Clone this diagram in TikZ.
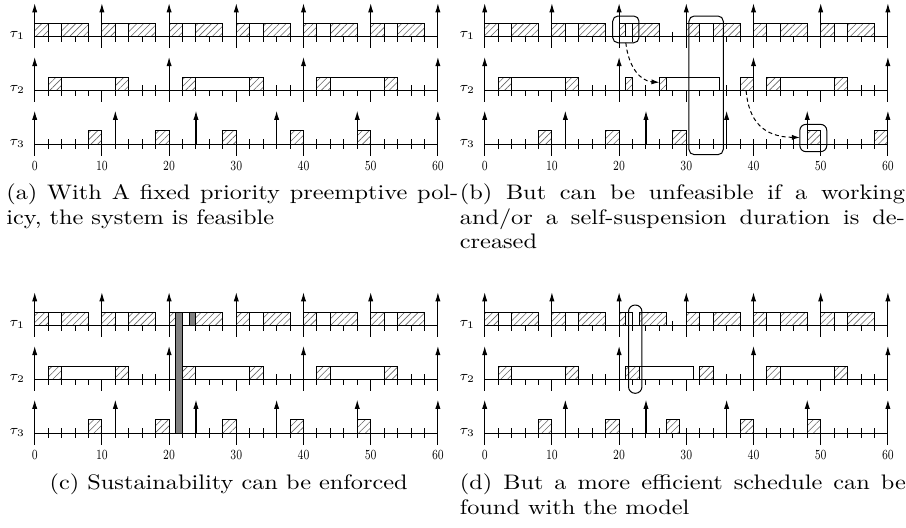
\documentclass[tikz,border=0pt]{standalone}
\usepackage{graphicx}
\usetikzlibrary{patterns.meta,arrows.meta}
\tikzset{
  axisline/.style={line width=0.55pt},
  tickline/.style={line width=0.5pt},
  release/.style={line width=0.55pt,-{Latex[length=4.6pt,width=2.6pt]}},
  workbox/.style={draw,line width=0.5pt,preaction={fill=white},pattern={Lines[angle=45,distance=2.4pt,line width=0.3pt]},pattern color=black!60},
  suspbox/.style={draw,line width=0.5pt,fill=white},
  padbox/.style={draw,line width=0.5pt,fill=black!50},
  ring/.style={draw,line width=0.5pt,rounded corners=2.6pt},
  hint/.style={line width=0.5pt,dash pattern=on 2pt off 1.5pt,-{Latex[length=4pt,width=2.6pt]}},
  tlabel/.style={font=\fontsize{7}{8}\selectfont,anchor=east,inner sep=0pt},
  nlabel/.style={font=\fontsize{7}{8}\selectfont,inner sep=0pt},
  captext/.style={anchor=base west,inner sep=0pt,font=\fontsize{10.5}{12}\selectfont},
}
\newcommand\JobW[3]{\draw[workbox] ({#1},{#3-2}) rectangle ({#2},{#3});}
\newcommand\JobS[3]{\draw[suspbox] ({#1},{#3-2}) rectangle ({#2},{#3});}
\newcommand\JobP[3]{\draw[padbox] ({#1},{#3-2}) rectangle ({#2},{#3});}
\newcommand\TaskOne[1]{\JobW{#1}{#1+2}{0}\JobS{#1+2}{#1+4}{0}\JobW{#1+4}{#1+8}{0}}
\newcommand\TaskTwo[1]{\JobW{#1+2}{#1+4}{8}\JobS{#1+4}{#1+12}{8}\JobW{#1+12}{#1+14}{8}}
\newcommand\Grid{%
  \foreach \r in {0,8,16}{
    \draw[axisline] (0,\r) -- (60,\r);
    \foreach \t in {2,4,...,58}{\draw[tickline] (\t,{\r-0.75}) -- (\t,{\r+0.75});}
    \foreach \t in {0,10,...,60}{\draw[tickline] (\t,{\r-0.75}) -- (\t,{\r+1.75});}
  }
  \foreach \t in {0,10,...,60}{\node[nlabel] at (\t,19.3) {\scalebox{0.74}[1]{\t}};}
  \node[tlabel] (l1) at (-1.4,-0.2) {$\tau_1$};
  \node[tlabel] (l2) at (-1.4,7.85) {$\tau_2$};
  \node[tlabel] (l3) at (-1.4,15.9) {$\tau_3$};
}
\newcommand\Releases{%
  \foreach \t in {0,10,...,60}{\draw[release] (\t,0) -- (\t,-5);}
  \foreach \t in {0,20,40,60}{\draw[release] (\t,8) -- (\t,3);}
  \foreach \t in {0,12,...,60}{\draw[release] (\t,16) -- (\t,11);}
}
\newcommand\Cap[4]{\node[captext] at (#1,#2) {\scalebox{1.157}[1]{\hbox to #3{#4}}};}
\newcommand\CapN[3]{\node[captext] at (#1,#2) {\scalebox{1.157}[1]{#3}};}
\begin{document}
\begin{tikzpicture}[x=0.5pt,y=-0.5pt]
\useasboundingbox (0,0) rectangle (906,527);
% ---------- (a)
\begin{scope}[shift={(34.7,36.7)},x=3.36pt,y=-3.36pt]
  \Grid
  \foreach \s in {0,10,...,50}{\TaskOne{\s}}
  \foreach \s in {0,20,40}{\TaskTwo{\s}}
  \foreach \s in {8,18,...,48}{\JobW{\s}{\s+2}{16}}
  \Releases
\end{scope}
% ---------- (b)
\begin{scope}[shift={(484.7,36.7)},x=3.36pt,y=-3.36pt]
  \Grid
  \foreach \s in {0,10,30,40,50}{\TaskOne{\s}}
  \JobW{20}{21}{0}\JobS{21}{22}{0}\JobW{22}{26}{0}
  \foreach \s in {0,40}{\TaskTwo{\s}}
  \JobW{21}{22}{8}\JobW{26}{27}{8}\JobS{27}{35}{8}\JobW{38}{40}{8}
  \foreach \s in {8,18,28,48,58}{\JobW{\s}{\s+2}{16}}
  \Releases
  \draw[ring] (19.05,-3.08) rectangle (22.96,0.9);
  \draw[ring] (30.4,-3.08) rectangle (35.5,17.55);
  \draw[ring,rounded corners=3pt] (46.9,13.05) rectangle (50.9,17.1);
  \coordinate (p1) at (21,0.9);
  \coordinate (q1) at (26,6.8);
  \coordinate (p2) at (38.9,8.05);
  \coordinate (q2) at (46.9,15);
  \draw[hint] (p1) .. controls (21.4,4.6) and (23.2,6.6) .. (q1);
  \draw[hint] (p2) .. controls (39.3,12.6) and (41.5,14.9) .. (q2);
\end{scope}
% ---------- (c)
\begin{scope}[shift={(34.7,325.7)},x=3.36pt,y=-3.36pt]
  \Grid
  \foreach \s in {0,10,30,40,50}{\TaskOne{\s}}
  \JobW{20}{21}{0}\JobS{22}{23}{0}\JobP{23}{24}{0}\JobW{24}{28}{0}
  \foreach \s in {0,20,40}{\TaskTwo{\s}}
  \foreach \s in {8,18,...,48}{\JobW{\s}{\s+2}{16}}
  \Releases
  \draw[padbox] (21,-2) rectangle (22,16);
\end{scope}
% ---------- (d)
\begin{scope}[shift={(484.7,325.7)},x=3.36pt,y=-3.36pt]
  \Grid
  \foreach \s in {0,10,30,40,50}{\TaskOne{\s}}
  \JobW{20}{21}{0}\JobS{21}{22}{0}\JobW{23}{27}{0}
  \foreach \s in {0,40}{\TaskTwo{\s}}
  \JobW{21}{23}{8}\JobS{23}{31}{8}\JobW{32}{34}{8}
  \foreach \s in {8,18,27,38,48}{\JobW{\s}{\s+2}{16}}
  \Releases
  \draw[line width=0.5pt,rounded corners=3.3pt] (21.4,-3.08) rectangle (23.4,10.06);
\end{scope}
% ---------- captions
\Cap{6}{199.6}{195.3pt}{(a) With A fixed priority preemptive pol-}
\CapN{6}{224}{icy, the system is feasible}
\Cap{459.5}{199.6}{192.3pt}{(b) But can be unfeasible if a working}
\Cap{459.5}{224}{192.3pt}{and/or a self-suspension duration is de-}
\CapN{459.5}{248.4}{creased}
\CapN{49.3}{489.6}{(c) Sustainability can be enforced}
\Cap{459.5}{489.6}{192.7pt}{(d) But a more efficient schedule can be}
\CapN{459.5}{514}{found with the model}
\end{tikzpicture}
\end{document}
